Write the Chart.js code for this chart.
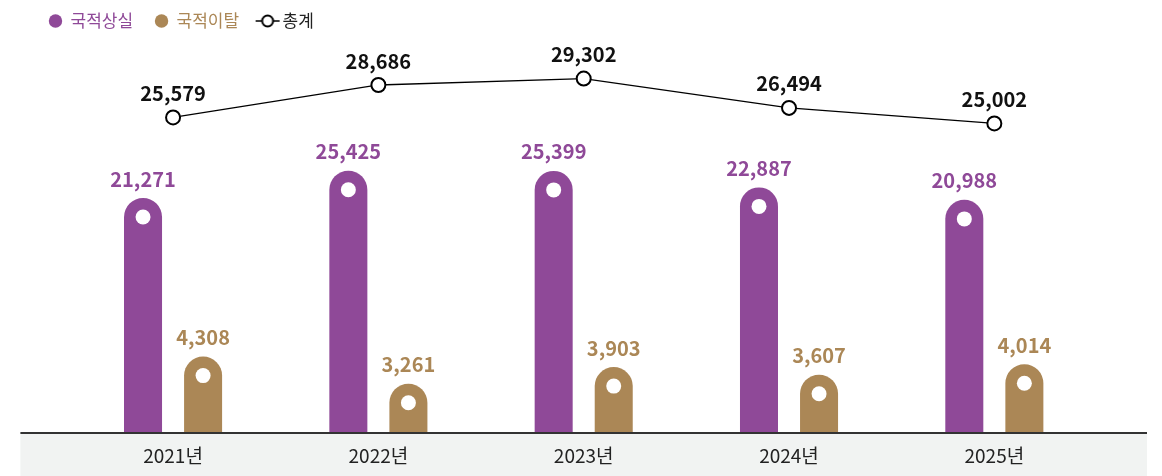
<!DOCTYPE html>
<html lang="ko">
<head>
<meta charset="utf-8">
<script src="https://cdn.jsdelivr.net/npm/chart.js@4.4.1/dist/chart.umd.min.js"></script>
<style>
    html, body { margin: 0; padding: 0; background: #fff; }
</style>
</head>
<body>
<canvas id="chart" width="1162" height="476"></canvas>
<script>
const years = ['2021년', '2022년', '2023년', '2024년', '2025년'];
const seriesNames = ['국적상실', '국적이탈', '총계'];
const lossValues = [21271, 25425, 25399, 22887, 20988];
const renounceValues = [4308, 3261, 3903, 3607, 4014];
const totalValues = [25579, 28686, 29302, 26494, 25002];

const purple = '#8f4998';
const brown = '#ab8756';
const dark = '#111';
const legendColors = [purple, brown, '#222'];

Chart.defaults.font.family = '"Noto Sans CJK KR", "Noto Sans", sans-serif';

// icone de la legende pour la ligne : trait + rond
const lineIcon = document.createElement('canvas');
lineIcon.width = 26;
lineIcon.height = 16;
(function () {
    const c = lineIcon.getContext('2d');
    c.strokeStyle = '#000';
    c.lineWidth = 1.5;
    c.beginPath();
    c.moveTo(1, 8);
    c.lineTo(25, 8);
    c.stroke();
    c.beginPath();
    c.arc(13, 8, 5.5, 0, Math.PI * 2);
    c.fillStyle = '#fff';
    c.fill();
    c.lineWidth = 2;
    c.stroke();
})();

// bande grise sous l'axe x
const bandPlugin = {
    id: 'band',
    beforeDraw(chart) {
        const ctx = chart.ctx;
        const area = chart.chartArea;
        ctx.save();
        ctx.fillStyle = '#f1f3f2';
        ctx.fillRect(area.left - 50, area.bottom, area.right - area.left + 100, chart.height - area.bottom);
        ctx.restore();
    },
    afterDatasetsDraw(chart) {
        const ctx = chart.ctx;
        const area = chart.chartArea;
        ctx.save();
        ctx.strokeStyle = '#333';
        ctx.lineWidth = 2;
        ctx.beginPath();
        ctx.moveTo(area.left - 50, area.bottom);
        ctx.lineTo(area.right + 50, area.bottom);
        ctx.stroke();
        ctx.restore();
    }
};

// valeurs au-dessus des barres et des points, rond blanc dans les barres
const valuePlugin = {
    id: 'values',
    afterDatasetsDraw(chart) {
        const ctx = chart.ctx;
        ctx.save();
        ctx.textAlign = 'center';
        ctx.textBaseline = 'middle';
        ctx.font = 'bold 20px "Noto Sans CJK KR", "Noto Sans", sans-serif';
        chart.data.datasets.forEach((ds, i) => {
            const meta = chart.getDatasetMeta(i);
            meta.data.forEach((el, j) => {
                const text = ds.data[j].toLocaleString('en-US');
                if (ds.type === 'bar') {
                    ctx.fillStyle = '#fff';
                    ctx.beginPath();
                    ctx.arc(el.x, el.y + el.width / 2, 7.5, 0, Math.PI * 2);
                    ctx.fill();
                    ctx.fillStyle = ds.backgroundColor;
                    ctx.fillText(text, el.x, el.y - 19);
                } else {
                    ctx.fillStyle = dark;
                    ctx.fillText(text, el.x, el.y - 24);
                }
            });
        });
        ctx.restore();
    }
};

new Chart(
    document.getElementById('chart'),
    {
        data: {
            labels: years,
            datasets: [
                {
                    type: 'bar',
                    label: seriesNames[0],
                    data: lossValues,
                    backgroundColor: purple,
                    yAxisID: 'y',
                    base: -14500,
                    borderRadius: { topLeft: 19, topRight: 19 },
                    borderSkipped: 'start',
                    categoryPercentage: 0.585,
                    barPercentage: 0.633
                },
                {
                    type: 'bar',
                    label: seriesNames[1],
                    data: renounceValues,
                    backgroundColor: brown,
                    yAxisID: 'y1',
                    base: 1365,
                    borderRadius: { topLeft: 19, topRight: 19 },
                    borderSkipped: 'start',
                    categoryPercentage: 0.585,
                    barPercentage: 0.633
                },
                {
                    type: 'line',
                    label: seriesNames[2],
                    data: totalValues,
                    yAxisID: 'y2',
                    borderColor: '#000',
                    borderWidth: 1.3,
                    pointRadius: 7,
                    pointBorderWidth: 2,
                    pointBackgroundColor: '#fff',
                    pointBorderColor: '#000',
                    tension: 0
                }
            ]
        },
        options: {
            responsive: false,
            animation: false,
            devicePixelRatio: 1,
            layout: {
                padding: { left: 27, right: 65, top: -9.5, bottom: 0 }
            },
            scales: {
                x: {
                    grid: { display: false, drawTicks: false },
                    border: { display: false },
                    ticks: {
                        color: '#222',
                        padding: 11,
                        font: { size: 19 }
                    },
                    afterFit: s => { s.height = 43; }
                },
                y: {
                    position: 'left',
                    min: -14500,
                    max: 45400,
                    grid: { display: false, drawTicks: false },
                    border: { display: false },
                    ticks: { display: false },
                    afterFit: s => { s.width = 43.4; }
                },
                y1: {
                    display: false,
                    min: 1365,
                    max: 16520
                },
                y2: {
                    display: false,
                    min: -4630,
                    max: 33040
                }
            },
            plugins: {
                tooltip: { enabled: false },
                legend: {
                    position: 'top',
                    align: 'start',
                    labels: {
                        usePointStyle: true,
                        boxWidth: 13,
                        boxHeight: 9.5,
                        padding: 22,
                        font: { size: 17 },
                        generateLabels: chart => chart.data.datasets.map((ds, i) => ({
                            text: ds.label,
                            fillStyle: i < 2 ? ds.backgroundColor : '#fff',
                            strokeStyle: i < 2 ? ds.backgroundColor : '#000',
                            fontColor: legendColors[i],
                            lineWidth: 0,
                            pointStyle: i < 2 ? 'circle' : lineIcon,
                            hidden: false,
                            datasetIndex: i
                        }))
                    }
                }
            }
        },
        plugins: [bandPlugin, valuePlugin]
    }
);
</script>
</body>
</html>
